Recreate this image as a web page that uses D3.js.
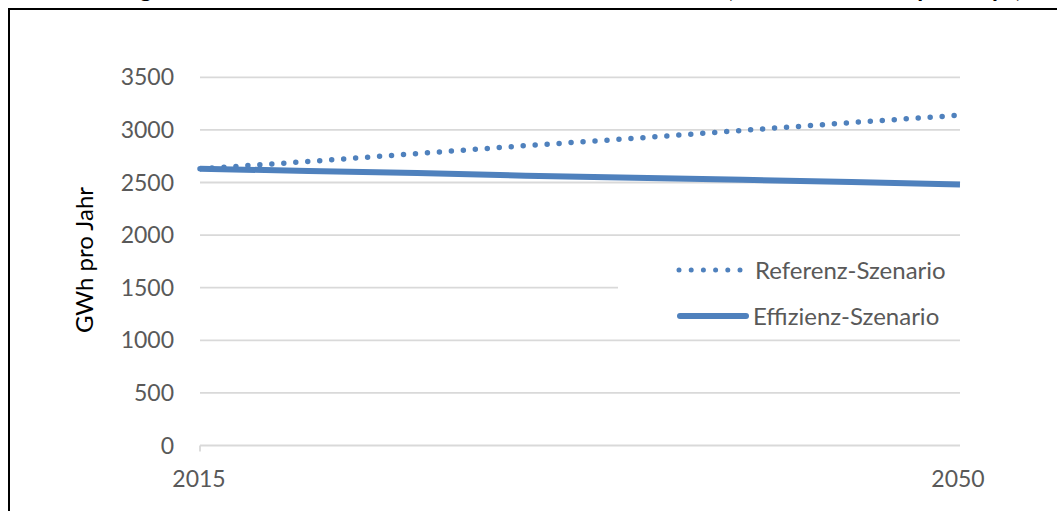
<!DOCTYPE html>
<html>
<head>
<meta charset="utf-8">
<script src="https://cdn.jsdelivr.net/npm/d3@7"></script>
<style>
  html, body { margin: 0; padding: 0; background: #fff; overflow: hidden; }
  svg { display: block; }
  text { font-family: Lato, "Open Sans", sans-serif; }
</style>
</head>
<body>
<svg id="chart" width="1057" height="511"></svg>
<script>
// Stromverbrauch 2015–2050 in zwei Szenarien (GWh pro Jahr)
const years = [2015, 2020, 2025, 2030, 2035, 2040, 2045, 2050];
const referenz = [2630, 2700, 2775, 2850, 2920, 2995, 3070, 3140];
const effizienz = [2630, 2610, 2590, 2565, 2545, 2525, 2505, 2480];
const yTicks = [0, 500, 1000, 1500, 2000, 2500, 3000, 3500];
const xTickLabels = [2015, 2050];
const seriesNames = ["Referenz-Szenario", "Effizienz-Szenario"];
const titleText = "Entwicklung des Stromverbrauchs im Haushaltssektor bis 2050 (beide Szenarien pro Kopf)";

const blue = "#4f81bd";
const grey = "#595959";

const svg = d3.select("#chart");

// outer frame of the chart object
svg.append("rect")
  .attr("x", 9).attr("y", 9)
  .attr("width", 1200).attr("height", 700)
  .attr("fill", "none").attr("stroke", "#000").attr("stroke-width", 2);

// title (runs above the top edge of the frame)
const title = svg.append("text")
  .attr("x", 0).attr("y", -3)
  .attr("font-weight", "bold")
  .attr("font-size", 24)
  .attr("fill", "#000")
  .text(titleText);
// first "g" at x = 140, closing bracket ending near x = 1022
{
  const node = title.node();
  const gi = titleText.indexOf("g");
  const gx = node.getStartPositionOfChar(gi).x + node.getSubStringLength(gi, 1) / 2;
  const x0 = 140 - gx;
  title.attr("x", x0)
    .attr("textLength", 1022 - x0)
    .attr("lengthAdjust", "spacing");
}

const x = d3.scaleLinear().domain([2015, 2050]).range([200, 960]);
const y = d3.scaleLinear().domain([0, 3500]).range([445.5, 77.3]);

// gridlines
svg.append("g")
  .selectAll("line")
  .data(yTicks)
  .join("line")
  .attr("x1", x(2015)).attr("x2", x(2050))
  .attr("y1", d => y(d)).attr("y2", d => y(d))
  .attr("stroke", "#d9d9d9").attr("stroke-width", 1.8);

// tick at the start of the category axis
svg.append("line")
  .attr("x1", x(2015)).attr("x2", x(2015))
  .attr("y1", y(0)).attr("y2", y(0) + 6)
  .attr("stroke", "#d9d9d9").attr("stroke-width", 1.8);

// y axis labels
svg.append("g")
  .selectAll("text")
  .data(yTicks)
  .join("text")
  .attr("x", 174)
  .attr("y", d => y(d) + 8)
  .attr("text-anchor", "end")
  .attr("font-size", 23)
  .attr("fill", grey)
  .text(d => d);

// x axis labels
svg.append("g")
  .selectAll("text")
  .data(xTickLabels)
  .join("text")
  .attr("x", d => x(d) + (d === 2015 ? -1 : -2))
  .attr("y", 487)
  .attr("text-anchor", "middle")
  .attr("font-size", 23)
  .attr("fill", grey)
  .text(d => d);

// y axis title
svg.append("text")
  .attr("transform", "translate(93,260) rotate(-90)")
  .attr("text-anchor", "middle")
  .attr("font-size", 24)
  .attr("fill", "#000")
  .text("GWh pro Jahr");

const line = d3.line().x((d, i) => x(years[i])).y(d => y(d));

// Referenz: dotted
svg.append("path")
  .datum(referenz)
  .attr("d", line)
  .attr("fill", "none")
  .attr("stroke", blue)
  .attr("stroke-width", 5.5)
  .attr("stroke-linecap", "round")
  .attr("stroke-dasharray", "0 12");

// Effizienz: solid
svg.append("path")
  .datum(effizienz)
  .attr("d", line)
  .attr("fill", "none")
  .attr("stroke", blue)
  .attr("stroke-width", 6);

// legend with white backdrop
const lg = svg.append("g");
lg.append("rect")
  .attr("x", 618).attr("y", 248)
  .attr("width", 345).attr("height", 84)
  .attr("fill", "#fff");

lg.append("line")
  .attr("x1", 679).attr("x2", 742)
  .attr("y1", 270).attr("y2", 270)
  .attr("stroke", blue).attr("stroke-width", 5)
  .attr("stroke-linecap", "round")
  .attr("stroke-dasharray", "0 12.2");
lg.append("line")
  .attr("x1", 680).attr("x2", 746)
  .attr("y1", 316).attr("y2", 316)
  .attr("stroke", blue).attr("stroke-width", 6)
  .attr("stroke-linecap", "round");

lg.selectAll("text.lbl")
  .data(seriesNames)
  .join("text")
  .attr("class", "lbl")
  .attr("x", (d, i) => i === 0 ? 755 : 753)
  .attr("y", (d, i) => i === 0 ? 279 : 325)
  .attr("font-size", 24)
  .attr("fill", grey)
  .text(d => d);
</script>
</body>
</html>
